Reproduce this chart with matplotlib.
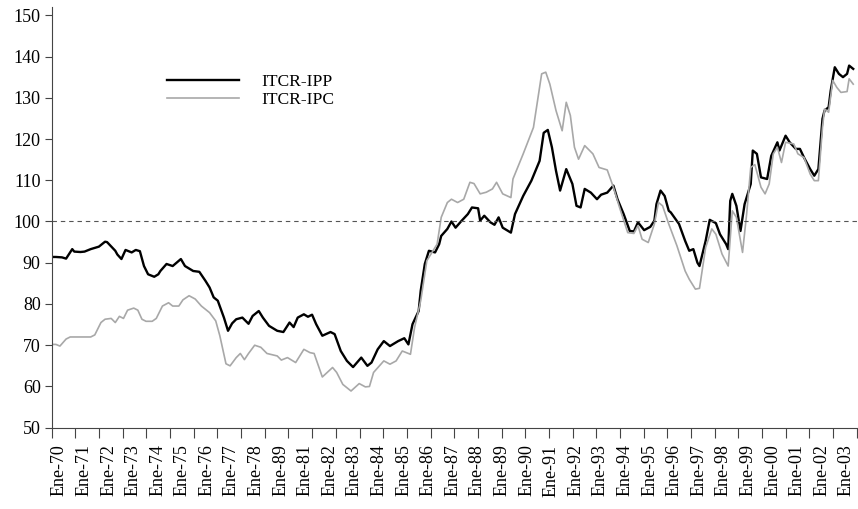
import matplotlib
matplotlib.use("Agg")
import matplotlib.pyplot as plt
import numpy as np

# meses contados desde Ene-70 (la serie no trae un año completo, como el original)
ipp_mes = [0, 2, 5, 7, 10, 11, 14, 16, 19, 23, 26, 27, 31, 32, 34, 36, 39, 41, 43, 45,
           47, 50, 52, 53, 56, 59, 63, 65, 69, 72, 75, 77, 79, 81, 84, 86, 88, 90, 93, 96,
           98, 101, 103, 106, 110, 113, 116, 118, 120, 123, 125, 127, 129, 132, 136, 138, 141, 144, 147, 151,
           154, 156, 159, 162, 165, 169, 172, 174, 176, 179, 180, 182, 184, 187, 189, 190, 193, 195, 197, 200,
           203, 205, 208, 209, 211, 214, 216, 218, 220, 224, 226, 230, 234, 238, 240, 242, 244, 246, 248, 251,
           254, 256, 258, 260, 263, 266, 268, 271, 274, 276, 279, 282, 284, 286, 289, 292, 294, 295, 297, 299,
           301, 302, 306, 309, 311, 313, 315, 316, 319, 321, 324, 326, 329, 330, 331, 332, 334, 336, 338, 341,
           342, 344, 346, 349, 351, 354, 355, 358, 360, 363, 365, 367, 370, 372, 374, 376, 377, 379, 380, 382,
           384, 386, 388, 389, 391]
ipp = [91.4, 91.4, 91.3, 91.0, 93.3, 92.7, 92.6, 92.7, 93.3, 93.9, 95.1, 95.0, 92.9, 92.0, 90.9, 93.1, 92.5, 93.1, 92.8, 89.2,
       87.2, 86.6, 87.2, 88.0, 89.7, 89.2, 90.9, 89.2, 88.0, 87.8, 85.6, 84.0, 81.6, 80.8, 76.7, 73.5, 75.3, 76.3, 76.7, 75.2,
       77.1, 78.3, 76.7, 74.7, 73.5, 73.2, 75.5, 74.4, 76.7, 77.5, 76.9, 77.4, 75.1, 72.3, 73.2, 72.7, 68.6, 66.2, 64.7, 67.0,
       65.0, 65.8, 69.0, 71.0, 69.8, 71.0, 71.7, 70.2, 75.1, 78.3, 83.2, 89.7, 92.9, 92.5, 94.5, 96.5, 98.2, 100.0, 98.5, 100.2,
       101.8, 103.4, 103.2, 100.2, 101.4, 99.8, 99.2, 101.0, 98.5, 97.3, 101.8, 106.2, 109.9, 114.7, 121.5, 122.2, 118.0, 112.3, 107.5, 112.7,
       109.1, 103.8, 103.4, 107.9, 107.0, 105.4, 106.5, 107.0, 108.7, 105.4, 101.8, 97.7, 97.6, 99.8, 97.9, 98.7, 100.2, 104.2, 107.5, 106.2,
       102.6, 102.2, 99.4, 95.3, 92.9, 93.3, 90.0, 89.2, 95.3, 100.4, 99.6, 96.9, 94.5, 93.3, 105.0, 106.7, 103.8, 97.7, 104.2, 109.1,
       117.2, 116.4, 110.7, 110.3, 115.9, 119.2, 117.2, 120.8, 119.2, 117.6, 117.6, 115.5, 112.7, 111.1, 112.7, 124.9, 126.9, 127.7, 131.7, 137.4,
       135.8, 135.0, 135.8, 137.8, 137.0]

ipc_mes = [0, 2, 4, 7, 9, 14, 19, 21, 24, 26, 29, 31, 33, 35, 37, 40, 42, 44, 46, 49,
           51, 54, 57, 59, 62, 64, 67, 70, 73, 77, 80, 82, 85, 87, 90, 92, 94, 96, 99, 102,
           105, 110, 112, 115, 119, 123, 126, 128, 132, 137, 139, 142, 146, 150, 153, 155, 157, 162, 165, 168,
           171, 175, 177, 180, 183, 185, 188, 190, 193, 195, 198, 201, 204, 206, 209, 212, 215, 217, 220, 224,
           225, 230, 235, 237, 239, 241, 243, 246, 249, 251, 253, 255, 257, 260, 264, 267, 271, 274, 277, 281,
           284, 286, 288, 291, 294, 296, 298, 301, 305, 309, 311, 314, 316, 319, 322, 324, 327, 330, 332, 334,
           337, 339, 341, 343, 346, 348, 350, 352, 354, 356, 358, 362, 364, 367, 370, 372, 374, 376, 377, 379,
           381, 383, 385, 388, 389, 391]
ipc = [70.2, 70.2, 69.8, 71.5, 72.0, 72.0, 72.0, 72.5, 75.5, 76.3, 76.5, 75.5, 77.0, 76.5, 78.5, 79.0, 78.5, 76.3, 75.8, 75.8,
       76.5, 79.5, 80.3, 79.5, 79.5, 81.0, 82.0, 81.2, 79.5, 77.9, 75.9, 72.3, 65.5, 65.0, 67.0, 68.0, 66.5, 68.0, 70.0, 69.5,
       68.0, 67.4, 66.4, 67.0, 65.8, 69.0, 68.2, 68.0, 62.3, 64.6, 63.4, 60.5, 58.9, 60.7, 59.9, 60.0, 63.4, 66.2, 65.4, 66.2,
       68.6, 67.8, 74.3, 80.8, 90.5, 92.1, 94.5, 101.0, 104.6, 105.4, 104.6, 105.4, 109.5, 109.2, 106.7, 107.1, 107.9, 109.5, 106.7, 105.8,
       110.3, 116.4, 122.8, 129.3, 135.8, 136.2, 133.3, 126.9, 122.0, 128.9, 125.7, 118.0, 115.1, 118.4, 116.4, 113.1, 112.5, 108.3, 103.4, 97.3,
       97.1, 99.0, 95.7, 94.9, 99.4, 104.6, 103.8, 99.4, 94.1, 88.0, 86.0, 83.6, 83.8, 93.7, 98.2, 96.9, 92.1, 89.2, 102.6, 101.0,
       92.5, 101.8, 113.1, 113.8, 108.3, 106.7, 109.1, 116.4, 118.0, 114.3, 119.2, 118.8, 116.4, 115.5, 111.5, 109.9, 109.9, 122.8, 127.3, 126.5,
       134.2, 132.5, 131.3, 131.5, 134.6, 133.3]

etiquetas = ["Ene-70", "Ene-71", "Ene-72", "Ene-73", "Ene-74", "Ene-75", "Ene-76", "Ene-77",
             "Ene-78", "Ene-89", "Ene-81", "Ene-82", "Ene-83", "Ene-84", "Ene-85", "Ene-86",
             "Ene-87", "Ene-88", "Ene-89", "Ene-90", "Ene-91", "Ene-92", "Ene-93", "Ene-94",
             "Ene-95", "Ene-96", "Ene-97", "Ene-98", "Ene-99", "Ene-00", "Ene-01", "Ene-02", "Ene-03"]

plt.rcParams['font.family'] = ['Liberation Serif', 'DejaVu Serif']

fig = plt.figure(figsize=(8.58, 5.09), dpi=100)
ax = fig.add_axes([0.0603, 0.1597, 0.9382, 0.8265])

ax.plot(ipp_mes, ipp, color='black', lw=1.7, label='ITCR-IPP')
ax.plot(ipc_mes, ipc, color='#a8a8a8', lw=1.2, label='ITCR-IPC')
ax.axhline(100, color='#555555', lw=0.8, dashes=(4, 3.5))

ax.set_xlim(0, 392.7)
ax.set_ylim(50, 152)
ax.set_yticks(range(50, 151, 10))

# etiquetas cada 12 meses, marcas de graduación aparte
ax.set_xticks([12 * i + 3.7 for i in range(len(etiquetas))])
ax.set_xticklabels(etiquetas, rotation=90, fontsize=13)
ax.tick_params(axis='x', which='major', length=0, pad=12)
ax.set_xticks(np.linspace(0, 392.7, 35), minor=True)
ax.tick_params(axis='x', which='minor', length=7, width=0.8, color='#444444', direction='out')
ax.tick_params(axis='y', length=5, width=0.8, color='#444444', labelsize=13, pad=3)

for s in ['top', 'right']:
    ax.spines[s].set_visible(False)
for s in ['left', 'bottom']:
    ax.spines[s].set_color('#444444')
    ax.spines[s].set_linewidth(0.8)

ax.legend(loc='center left', bbox_to_anchor=(0.143, 0.80), frameon=False,
          handlelength=4.1, handletextpad=1.3, labelspacing=0.08, fontsize=12.6,
          borderpad=0, borderaxespad=0)

fig.savefig('out.png', dpi=100)
